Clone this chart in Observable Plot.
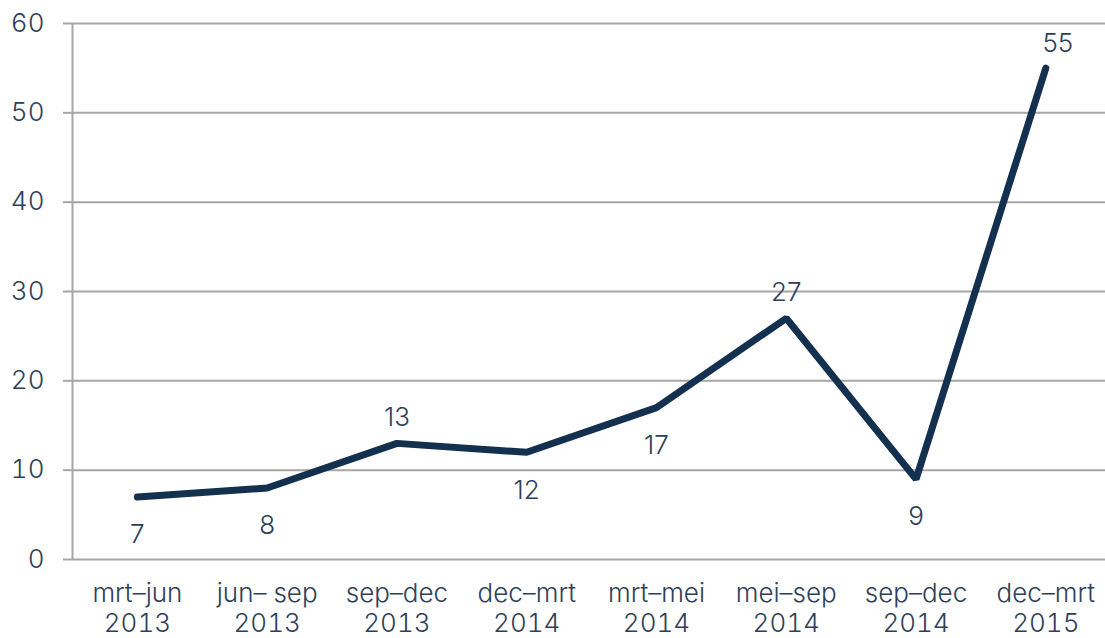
<!DOCTYPE html>
<html>
<head>
<meta charset="utf-8">
<script src="https://cdn.jsdelivr.net/npm/d3@7"></script>
<script src="https://cdn.jsdelivr.net/npm/@observablehq/plot@0.6"></script>
<style>
  html, body { margin: 0; padding: 0; background: #fff; }
  #chart svg { display: block; }
</style>
</head>
<body>
<div id="chart"></div>
<script>
const periods = ["mrt–jun", "jun– sep", "sep–dec", "dec–mrt", "mrt–mei", "mei–sep", "sep–dec", "dec–mrt"];
const years = ["2013", "2013", "2013", "2014", "2014", "2014", "2014", "2015"];
const values = [7, 8, 13, 12, 17, 27, 9, 55];
const labelPos = ["below", "below", "above", "below", "below", "above", "below", "aboveRight"];
const yTicks = [0, 10, 20, 30, 40, 50, 60];

const data = values.map((v, i) => ({i, v, pos: labelPos[i]}));
const textColor = "#2e4059";
const gridColor = "#a6a6a6";
const font = "Inter, 'Liberation Sans', Arial, sans-serif";

const plot = Plot.plot({
  width: 1105,
  height: 638,
  marginLeft: 72,
  marginRight: 0,
  marginTop: 23,
  marginBottom: 79,
  style: {fontFamily: font, fontSize: "26px", fontWeight: 300, color: textColor, background: "#fff"},
  x: {type: "linear", domain: [-0.5, 7.46]},
  y: {domain: [0, 60]},
  marks: [
    Plot.ruleY(yTicks, {stroke: gridColor, strokeWidth: 2}),
    Plot.ruleX([-0.5], {stroke: gridColor, strokeWidth: 2}),
    Plot.axisY({ticks: yTicks, tickSize: 9, tickPadding: 19, stroke: gridColor, strokeWidth: 2, tickFormat: d => String(d), fill: textColor, fontSize: 26, fontWeight: 300, label: null}),
    Plot.axisX({ticks: d3.range(periods.length), tickSize: 0, tickPadding: 21, tickFormat: i => periods[i] + "\n" + years[i], fill: textColor, fontSize: 26, fontWeight: 300, lineHeight: 1.15, label: null}),
    Plot.line(data, {x: "i", y: "v", stroke: "#14304f", strokeWidth: 7, strokeLinecap: "round", strokeLinejoin: "miter"}),
    Plot.text(data.filter(d => d.pos === "above"), {x: "i", y: "v", text: d => String(d.v), dy: -26, fill: textColor, fontSize: 26, fontWeight: 300}),
    Plot.text(data.filter(d => d.pos === "aboveRight"), {x: "i", y: "v", text: d => String(d.v), dy: -24, dx: 12, fill: textColor, fontSize: 26, fontWeight: 300}),
    Plot.text(data.filter(d => d.pos === "below"), {x: "i", y: "v", text: d => String(d.v), dy: 38, fill: textColor, fontSize: 26, fontWeight: 300})
  ]
});
document.getElementById("chart").appendChild(plot);
</script>
</body>
</html>
